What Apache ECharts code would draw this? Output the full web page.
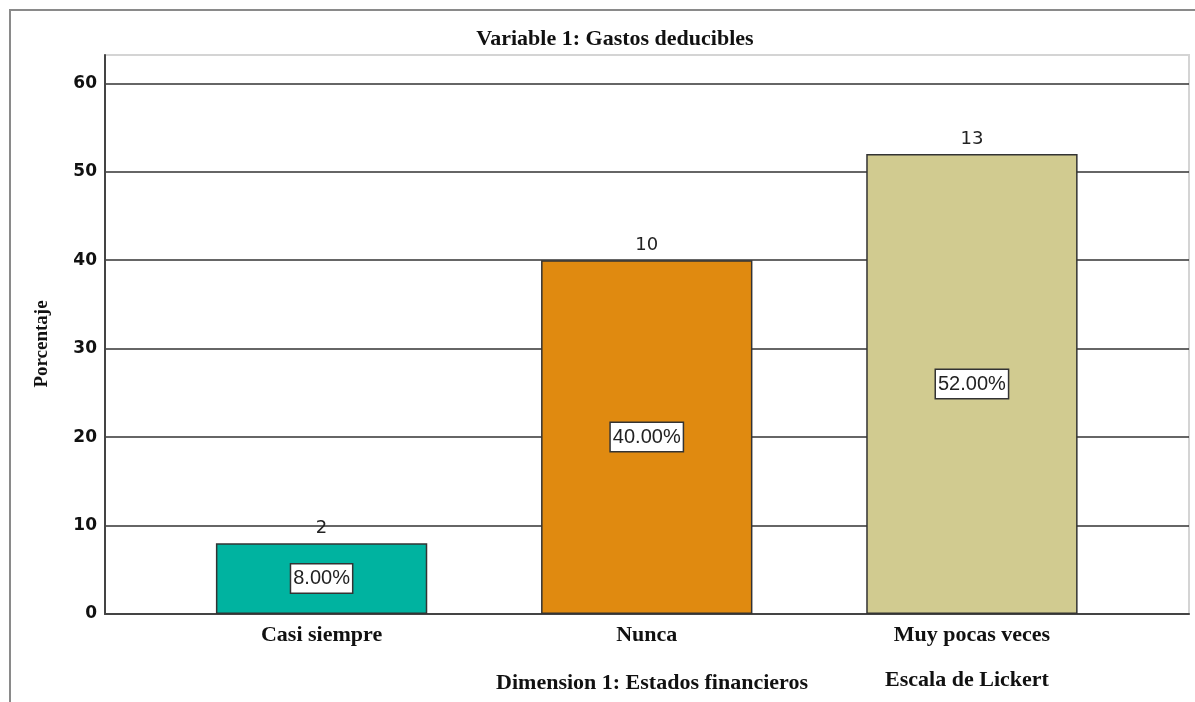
<!DOCTYPE html>
<html>
<head>
<meta charset="utf-8">
<script src="https://cdn.jsdelivr.net/npm/echarts@6/dist/echarts.min.js"></script>
<style>
  html, body { margin: 0; padding: 0; background: #fff; }
  #barChart { width: 1195px; height: 702px; }
  #frame {
    position: absolute; left: 9px; top: 9px; width: 1190px; height: 700px;
    border-left: 2px solid #8a8a8a; border-top: 2px solid #8a8a8a;
    pointer-events: none;
  }
</style>
</head>
<body>
<div id="barChart"></div>
<div id="frame"></div>
<script>
// datos del grafico
const categorias = ['Casi siempre', 'Nunca', 'Muy pocas veces']
const porcentajes = [8, 40, 52]
const frecuencias = [2, 10, 13]
const colores = ['#00b3a0', '#e08a10', '#d1cb90']
const yTicks = [0, 10, 20, 30, 40, 50, 60]

const serif = '"Liberation Serif", "Times New Roman", serif'
const sans = '"Liberation Sans", Arial, sans-serif'

let myChart = echarts.init(document.getElementById('barChart'))

myChart.setOption({
  animation: false,
  title: [
    {
      text: 'Variable 1: Gastos deducibles',
      left: 610, top: 23, textAlign: 'center',
      textStyle: { fontFamily: serif, fontWeight: 'bold', fontSize: 22, color: '#111' }
    },
    {
      text: 'Dimension 1: Estados financieros',
      left: 647, top: 667, textAlign: 'center',
      textStyle: { fontFamily: serif, fontWeight: 'bold', fontSize: 22, color: '#111' }
    },
    {
      text: 'Escala de Lickert',
      left: 962, top: 664, textAlign: 'center',
      textStyle: { fontFamily: serif, fontWeight: 'bold', fontSize: 22, color: '#111' }
    }
  ],
  // titulo del eje Y (girado)
  graphic: [
    {
      type: 'text', x: 42, y: 344, rotation: Math.PI / 2,
      style: {
        text: 'Porcentaje', align: 'center', verticalAlign: 'middle',
        fontFamily: serif, fontWeight: 'bold', fontSize: 19, fill: '#111'
      }
    }
  ],
  grid: [
    // marco del area de trazado
    { left: 105, right: 6, top: 55, bottom: 88, show: true, borderColor: '#d4d4d4', borderWidth: 2 },
    // grid de las barras
    { left: 159, right: 60.5, top: 55, bottom: 88 }
  ],
  xAxis: [
    {
      gridIndex: 0, type: 'value', min: 0, max: 1,
      axisLine: { show: true, onZero: false, lineStyle: { color: '#444', width: 2 } },
      axisTick: { show: false }, axisLabel: { show: false }, splitLine: { show: false }
    },
    {
      gridIndex: 1, type: 'category', data: categorias,
      axisLine: { show: false }, axisTick: { show: false },
      axisLabel: { margin: 10, fontFamily: serif, fontWeight: 'bold', fontSize: 22, color: '#111' }
    }
  ],
  yAxis: [
    {
      gridIndex: 0, type: 'value', min: 0, max: 63.2, interval: 10,
      axisLine: { show: true, lineStyle: { color: '#444', width: 2 } },
      axisTick: { show: false },
      axisLabel: {
        showMaxLabel: false, margin: 8,
        fontFamily: '"DejaVu Sans", sans-serif', fontWeight: 'bold', fontSize: 17, color: '#111',
        formatter: function (v) { return yTicks.indexOf(v) > -1 ? String(v) : '' }
      },
      splitLine: { show: true, showMaxLine: false, lineStyle: { color: '#333', width: 1.5 } }
    },
    {
      gridIndex: 1, type: 'value', min: 0, max: 63.2, show: false, splitLine: { show: false }
    }
  ],
  series: [
    {
      type: 'bar', xAxisIndex: 1, yAxisIndex: 1,
      barWidth: '65%',
      data: porcentajes.map(function (v, i) {
        return { value: v, itemStyle: { color: colores[i] } }
      }),
      itemStyle: { borderColor: '#333', borderWidth: 1.5 },
      label: {
        show: true, position: 'inside',
        formatter: function (p) { return p.value.toFixed(2) + '%' },
        fontFamily: sans, fontSize: 20, color: '#222',
        backgroundColor: '#fff', borderColor: '#333', borderWidth: 1.5,
        padding: [5, 2, 3, 2]
      }
    },
    {
      // etiquetas de frecuencia encima de cada barra
      type: 'bar', xAxisIndex: 1, yAxisIndex: 1,
      barWidth: '65%', barGap: '-100%',
      data: porcentajes,
      itemStyle: { color: 'rgba(0,0,0,0)' },
      silent: true,
      label: {
        show: true, position: 'top', distance: 6,
        formatter: function (p) { return String(frecuencias[p.dataIndex]) },
        fontFamily: '"DejaVu Sans", sans-serif', fontSize: 18, color: '#222'
      }
    }
  ]
})
</script>
</body>
</html>
